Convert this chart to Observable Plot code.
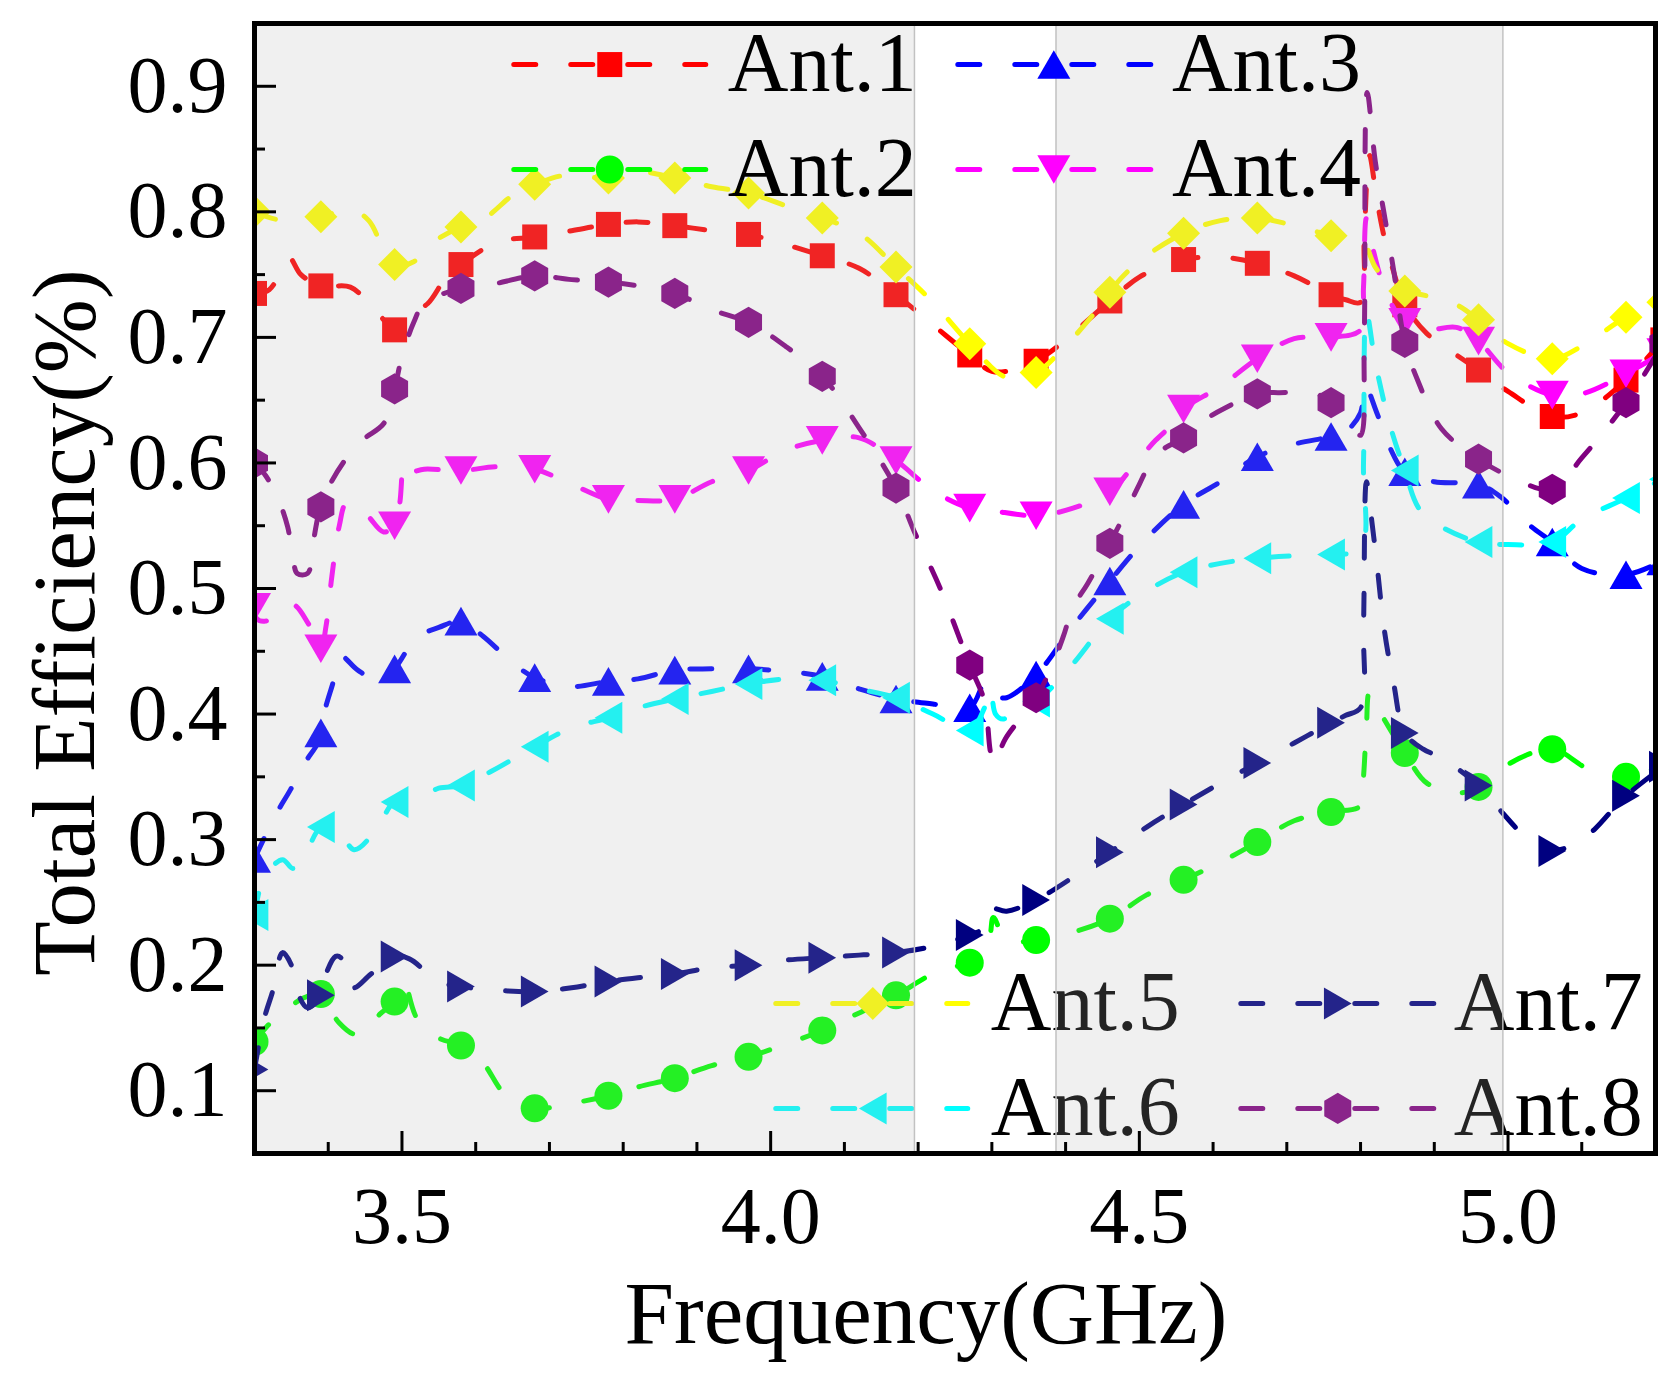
<!DOCTYPE html>
<html>
<head>
<meta charset="utf-8">
<script src="https://cdn.jsdelivr.net/npm/d3@7"></script>
<script src="https://cdn.jsdelivr.net/npm/@observablehq/plot@0.6"></script>
<style>
  html, body { margin: 0; padding: 0; background: #ffffff; }
  #chart { width: 1679px; height: 1380px; }
</style>
</head>
<body>
<div id="chart"></div>
<script>
// ---------------- data (frequency GHz, total efficiency) ----------------
const ant1 = [[3.30,0.735],[3.32,0.738],[3.34,0.757],[3.348,0.763],[3.363,0.75],[3.39,0.741],[3.43,0.74],[3.46,0.724],[3.48,0.711],[3.49,0.706],[3.51,0.718],[3.535,0.727],[3.56,0.748],[3.58,0.758],[3.63,0.776],[3.68,0.780],[3.73,0.785],[3.78,0.790],[3.82,0.792],[3.87,0.789],[3.92,0.785],[3.97,0.782],[4.02,0.774],[4.07,0.765],[4.12,0.755],[4.17,0.734],[4.22,0.71],[4.27,0.686],[4.30,0.673],[4.335,0.675],[4.36,0.681],[4.396,0.696],[4.425,0.711],[4.46,0.729],[4.50,0.748],[4.54,0.758],[4.56,0.762],[4.61,0.764],[4.66,0.759],[4.71,0.749],[4.76,0.734],[4.78,0.73],[4.80,0.728],[4.805,0.78],[4.812,0.845],[4.822,0.81],[4.832,0.78],[4.845,0.752],[4.86,0.726],[4.89,0.703],[4.93,0.686],[4.96,0.674],[5.00,0.657],[5.06,0.637],[5.10,0.64],[5.16,0.666],[5.21,0.698]];
const ant2 = [[3.30,0.139],[3.315,0.15],[3.333,0.16],[3.367,0.174],[3.39,0.177],[3.40,0.167],[3.415,0.154],[3.435,0.145],[3.447,0.146],[3.47,0.161],[3.49,0.171],[3.497,0.178],[3.503,0.187],[3.52,0.158],[3.55,0.142],[3.58,0.136],[3.61,0.122],[3.64,0.097],[3.68,0.086],[3.73,0.09],[3.78,0.096],[3.82,0.103],[3.87,0.11],[3.92,0.12],[3.97,0.127],[4.02,0.137],[4.07,0.148],[4.12,0.162],[4.17,0.176],[4.22,0.193],[4.27,0.202],[4.29,0.206],[4.298,0.225],[4.302,0.238],[4.32,0.22],[4.36,0.22],[4.39,0.223],[4.46,0.237],[4.51,0.256],[4.56,0.268],[4.61,0.282],[4.66,0.298],[4.71,0.315],[4.76,0.322],[4.80,0.327],[4.804,0.35],[4.808,0.39],[4.812,0.417],[4.825,0.403],[4.86,0.369],[4.89,0.345],[4.93,0.337],[4.96,0.342],[5.00,0.36],[5.06,0.372],[5.11,0.356],[5.16,0.35],[5.21,0.356]];
const ant3 = [[3.30,0.285],[3.329,0.32],[3.349,0.34],[3.367,0.36],[3.386,0.377],[3.39,0.385],[3.395,0.402],[3.406,0.424],[3.417,0.446],[3.44,0.435],[3.47,0.426],[3.49,0.436],[3.52,0.461],[3.55,0.469],[3.58,0.474],[3.61,0.462],[3.65,0.441],[3.68,0.429],[3.73,0.422],[3.78,0.426],[3.82,0.428],[3.87,0.435],[3.92,0.436],[3.97,0.436],[4.02,0.434],[4.07,0.43],[4.12,0.42],[4.17,0.412],[4.22,0.408],[4.27,0.405],[4.29,0.425],[4.298,0.426],[4.31,0.414],[4.32,0.413],[4.36,0.431],[4.41,0.47],[4.46,0.506],[4.51,0.54],[4.56,0.567],[4.61,0.585],[4.66,0.605],[4.71,0.615],[4.76,0.621],[4.78,0.625],[4.80,0.64],[4.806,0.662],[4.822,0.64],[4.84,0.612],[4.86,0.593],[4.90,0.585],[4.96,0.583],[4.99,0.573],[5.03,0.55],[5.06,0.537],[5.10,0.516],[5.16,0.511],[5.21,0.522]];
const ant4 = [[3.30,0.485],[3.303,0.476],[3.315,0.474],[3.335,0.482],[3.353,0.487],[3.373,0.472],[3.39,0.452],[3.397,0.47],[3.405,0.51],[3.415,0.55],[3.425,0.568],[3.45,0.56],[3.475,0.545],[3.49,0.55],[3.497,0.568],[3.503,0.6],[3.51,0.593],[3.53,0.595],[3.58,0.594],[3.63,0.597],[3.68,0.595],[3.73,0.583],[3.78,0.571],[3.82,0.57],[3.87,0.571],[3.92,0.585],[3.97,0.594],[4.02,0.61],[4.07,0.618],[4.12,0.62],[4.17,0.602],[4.22,0.578],[4.27,0.564],[4.30,0.562],[4.36,0.558],[4.41,0.564],[4.46,0.577],[4.495,0.60],[4.522,0.618],[4.547,0.632],[4.56,0.643],[4.61,0.661],[4.66,0.683],[4.71,0.699],[4.76,0.70],[4.80,0.706],[4.804,0.74],[4.808,0.795],[4.817,0.77],[4.835,0.735],[4.86,0.712],[4.89,0.706],[4.93,0.708],[4.96,0.697],[5.00,0.672],[5.06,0.654],[5.10,0.655],[5.16,0.671],[5.21,0.688]];
const ant5 = [[3.30,0.80],[3.33,0.794],[3.36,0.795],[3.39,0.796],[3.43,0.802],[3.455,0.793],[3.475,0.77],[3.49,0.758],[3.515,0.76],[3.54,0.775],[3.58,0.788],[3.61,0.794],[3.643,0.81],[3.66,0.818],[3.68,0.822],[3.72,0.829],[3.78,0.827],[3.82,0.832],[3.87,0.827],[3.92,0.82],[3.97,0.815],[4.02,0.805],[4.07,0.795],[4.12,0.783],[4.17,0.756],[4.22,0.728],[4.27,0.695],[4.32,0.668],[4.36,0.672],[4.39,0.687],[4.44,0.72],[4.46,0.736],[4.475,0.747],[4.505,0.763],[4.56,0.783],[4.61,0.793],[4.66,0.795],[4.71,0.789],[4.76,0.781],[4.78,0.778],[4.80,0.777],[4.808,0.772],[4.82,0.756],[4.84,0.742],[4.86,0.737],[4.89,0.733],[4.93,0.726],[4.96,0.714],[5.00,0.695],[5.06,0.683],[5.10,0.693],[5.16,0.716],[5.21,0.728]];
const ant6 = [[3.30,0.24],[3.313,0.27],[3.338,0.284],[3.352,0.277],[3.365,0.284],[3.39,0.31],[3.41,0.312],[3.435,0.292],[3.465,0.308],[3.49,0.33],[3.52,0.332],[3.55,0.341],[3.58,0.343],[3.62,0.354],[3.68,0.374],[3.73,0.389],[3.78,0.397],[3.82,0.405],[3.87,0.412],[3.92,0.418],[3.97,0.424],[4.02,0.428],[4.07,0.427],[4.12,0.42],[4.17,0.413],[4.22,0.40],[4.27,0.387],[4.29,0.405],[4.298,0.42],[4.305,0.40],[4.315,0.396],[4.33,0.402],[4.36,0.41],[4.41,0.44],[4.46,0.476],[4.51,0.498],[4.56,0.513],[4.61,0.52],[4.66,0.524],[4.71,0.526],[4.76,0.527],[4.80,0.532],[4.804,0.60],[4.808,0.72],[4.82,0.68],[4.84,0.63],[4.86,0.594],[4.88,0.563],[4.91,0.549],[4.96,0.537],[5.00,0.535],[5.06,0.537],[5.10,0.555],[5.16,0.572],[5.21,0.587]];
const ant7 = [[3.30,0.117],[3.313,0.157],[3.325,0.18],[3.338,0.21],[3.35,0.20],[3.358,0.179],[3.372,0.166],[3.39,0.176],[3.397,0.193],[3.41,0.207],[3.417,0.206],[3.433,0.182],[3.458,0.193],[3.49,0.207],[3.51,0.205],[3.55,0.187],[3.58,0.183],[3.63,0.18],[3.68,0.179],[3.73,0.182],[3.78,0.187],[3.82,0.19],[3.87,0.193],[3.92,0.198],[3.97,0.2],[4.02,0.204],[4.07,0.206],[4.12,0.208],[4.17,0.21],[4.22,0.215],[4.27,0.224],[4.296,0.232],[4.299,0.245],[4.32,0.243],[4.36,0.252],[4.41,0.27],[4.46,0.29],[4.51,0.31],[4.56,0.328],[4.61,0.345],[4.66,0.361],[4.71,0.377],[4.76,0.393],[4.78,0.399],[4.80,0.405],[4.804,0.47],[4.808,0.585],[4.815,0.555],[4.823,0.515],[4.832,0.468],[4.845,0.424],[4.86,0.385],[4.885,0.372],[4.907,0.366],[4.935,0.355],[4.96,0.343],[4.993,0.321],[5.02,0.304],[5.048,0.292],[5.06,0.291],[5.09,0.296],[5.117,0.308],[5.145,0.326],[5.16,0.335],[5.21,0.358]];
const ant8 = [[3.30,0.60],[3.315,0.59],[3.333,0.57],[3.345,0.549],[3.352,0.526],[3.358,0.512],[3.372,0.512],[3.38,0.538],[3.386,0.557],[3.39,0.565],[3.40,0.58],[3.42,0.60],[3.446,0.618],[3.476,0.632],[3.49,0.659],[3.50,0.685],[3.516,0.712],[3.53,0.727],[3.58,0.739],[3.62,0.742],[3.68,0.749],[3.73,0.746],[3.78,0.744],[3.82,0.741],[3.87,0.735],[3.92,0.722],[3.97,0.712],[4.02,0.693],[4.07,0.669],[4.12,0.628],[4.17,0.58],[4.195,0.545],[4.23,0.5],[4.27,0.439],[4.29,0.41],[4.298,0.37],[4.303,0.36],[4.318,0.38],[4.36,0.413],[4.384,0.442],[4.397,0.462],[4.41,0.485],[4.43,0.504],[4.46,0.536],[4.486,0.566],[4.50,0.583],[4.517,0.602],[4.535,0.612],[4.56,0.62],[4.588,0.634],[4.617,0.644],[4.66,0.655],[4.69,0.656],[4.74,0.655],[4.76,0.648],[4.785,0.635],[4.80,0.622],[4.805,0.70],[4.809,0.895],[4.82,0.84],[4.833,0.795],[4.845,0.753],[4.86,0.696],[4.878,0.665],[4.91,0.627],[4.96,0.603],[5.00,0.59],[5.06,0.579],[5.10,0.604],[5.16,0.648],[5.21,0.695]];

const seriesNames  = ["Ant.1", "Ant.2", "Ant.3", "Ant.4", "Ant.5", "Ant.6", "Ant.7", "Ant.8"];
const seriesData   = [ant1, ant2, ant3, ant4, ant5, ant6, ant7, ant8];
const seriesColors = ["#ff0000", "#00ff00", "#0000ff", "#ff00ff", "#ffff00", "#00ffff", "#000080", "#800080"];
const seriesShapes = ["square", "circle", "triangleUp", "triangleDown", "diamond", "triangleLeft", "triangleRight", "hexagon"];
const seriesSizes  = [12.5, 14, 16.5, 16.5, 16.5, 16, 16, 13.5];

// frequencies at which symbols are drawn
const markerFreqs = [3.30, 3.39, 3.49, 3.58, 3.68, 3.78, 3.87, 3.97, 4.07, 4.17, 4.27, 4.36, 4.46, 4.56, 4.66, 4.76, 4.86, 4.96, 5.06, 5.16, 5.21];

// ticks
const xMajor = [3.5, 4.0, 4.5, 5.0];
const xMinor = [3.4, 3.6, 3.7, 3.8, 3.9, 4.1, 4.2, 4.3, 4.4, 4.6, 4.7, 4.8, 4.9, 5.1];
const yMajor = [0.1, 0.2, 0.3, 0.4, 0.5, 0.6, 0.7, 0.8, 0.9];
const yMinor = [0.15, 0.25, 0.35, 0.45, 0.55, 0.65, 0.75, 0.85];
const xDomain = [3.3, 5.2];
const yDomain = [0.05, 0.95];

// shaded frequency bands (GHz)
const bands = [[3.3, 4.195], [4.387, 4.993]];

// legend layout (data coordinates): [seriesIndex, lineStart, markerX, lineEnd, textX, rowY]
const legendTop = [
  [0, 3.6516, 3.7818, 3.9120, 3.9418, 0.9173],
  [2, 4.2538, 4.3840, 4.5156, 4.5442, 0.9173],
  [1, 3.6516, 3.7818, 3.9120, 3.9418, 0.8337],
  [3, 4.2538, 4.3840, 4.5156, 4.5442, 0.8337]
];
const legendBottom = [
  [4, 4.0069, 4.1385, 4.2673, 4.2985, 0.1695],
  [6, 4.6376, 4.7691, 4.8993, 4.9265, 0.1695],
  [5, 4.0069, 4.1385, 4.2673, 4.2985, 0.0859],
  [7, 4.6376, 4.7691, 4.8993, 4.9265, 0.0859]
];

// ---------------- symbols ----------------
const SQ3 = Math.sqrt(3);
function makeSymbol(kind) {
  return {
    draw(ctx, size) {
      const r = Math.sqrt(size / Math.PI);
      if (kind === "square") { ctx.rect(-r, -r, 2 * r, 2 * r); return; }
      if (kind === "circle") { ctx.moveTo(r, 0); ctx.arc(0, 0, r, 0, 2 * Math.PI); return; }
      let pts;
      const h = SQ3 * r;
      if (kind === "diamond") pts = [[0, -r], [r, 0], [0, r], [-r, 0]];
      else if (kind === "triangleUp") pts = [[0, -h / 2], [r, h / 2], [-r, h / 2]];
      else if (kind === "triangleDown") pts = [[0, h / 2], [r, -h / 2], [-r, -h / 2]];
      else if (kind === "triangleRight") pts = [[h / 2, 0], [-h / 2, -r], [-h / 2, r]];
      else if (kind === "triangleLeft") pts = [[-h / 2, 0], [h / 2, -r], [h / 2, r]];
      else if (kind === "hexagon") {
        const ry = r * 1.1547;
        pts = [[0, -ry], [r, -ry / 2], [r, ry / 2], [0, ry], [-r, ry / 2], [-r, -ry / 2]];
      }
      ctx.moveTo(pts[0][0], pts[0][1]);
      for (let i = 1; i < pts.length; i++) ctx.lineTo(pts[i][0], pts[i][1]);
      ctx.closePath();
    }
  };
}
const symbolObjs = {};
for (const k of new Set(seriesShapes)) symbolObjs[k] = makeSymbol(k);

// ---------------- layout ----------------
const W = 1679, H = 1380;
const M = {top: 23, right: 24, bottom: 227, left: 254};
const fPerPx = (xDomain[1] - xDomain[0]) / (W - M.left - M.right);
const vPerPx = (yDomain[1] - yDomain[0]) / (H - M.top - M.bottom);
const FONT = "'Liberation Serif', 'Times New Roman', Times, serif";
const DASH = "22,35";
const LW = 5;

const isMarker = d => markerFreqs.some(m => Math.abs(m - d[0]) < 1e-9);

const marks = [];

// data series
seriesData.forEach((data, i) => {
  marks.push(Plot.line(data, {
    x: d => d[0], y: d => d[1], stroke: seriesColors[i], strokeWidth: LW,
    strokeDasharray: DASH, strokeLinecap: "round", strokeLinejoin: "round",
    curve: "catmull-rom", clip: true
  }));
  marks.push(Plot.dot(data.filter(isMarker), {
    x: d => d[0], y: d => d[1], symbol: symbolObjs[seriesShapes[i]], r: seriesSizes[i],
    fill: seriesColors[i], stroke: "none", clip: true
  }));
});

function legendMarks(entries) {
  const out = [];
  for (const [si, x1, xm, x2, xt, y] of entries) {
    out.push(Plot.line([[x1, y], [x2, y]], {
      x: d => d[0], y: d => d[1], stroke: seriesColors[si], strokeWidth: LW,
      strokeDasharray: DASH, strokeLinecap: "round"
    }));
    out.push(Plot.dot([[xm, y]], {
      x: d => d[0], y: d => d[1], symbol: symbolObjs[seriesShapes[si]], r: seriesSizes[si],
      fill: seriesColors[si], stroke: "none"
    }));
    out.push(Plot.text([[xt, y, seriesNames[si]]], {
      x: d => d[0], y: d => d[1], text: d => d[2], textAnchor: "start", lineAnchor: "middle",
      fontSize: 84, fontFamily: FONT, fill: "black"
    }));
  }
  return out;
}

// bottom legend sits beneath the band shading
marks.push(...legendMarks(legendBottom));

// shaded bands
marks.push(Plot.rect(bands, {
  x1: d => d[0], x2: d => d[1], y1: yDomain[0], y2: yDomain[1],
  fill: "#b4b4b4", fillOpacity: 0.2
}));
marks.push(Plot.ruleX(bands.flat().filter(v => v > xDomain[0] && v < xDomain[1]), {
  x: d => d, stroke: "#c2c2c2", strokeWidth: 1.5
}));

// top legend above shading
marks.push(...legendMarks(legendTop));

// inward ticks
const majLen = 22, minLen = 11;
marks.push(Plot.ruleX(xMajor, {x: d => d, y1: yDomain[0], y2: yDomain[0] + majLen * vPerPx, stroke: "black", strokeWidth: 3}));
marks.push(Plot.ruleX(xMinor, {x: d => d, y1: yDomain[0], y2: yDomain[0] + minLen * vPerPx, stroke: "black", strokeWidth: 3}));
marks.push(Plot.ruleY(yMajor, {y: d => d, x1: xDomain[0], x2: xDomain[0] + majLen * fPerPx, stroke: "black", strokeWidth: 3}));
marks.push(Plot.ruleY(yMinor, {y: d => d, x1: xDomain[0], x2: xDomain[0] + minLen * fPerPx, stroke: "black", strokeWidth: 3}));

// frame
marks.push(Plot.frame({stroke: "black", strokeWidth: 5}));

// axes labels
marks.push(Plot.axisX(xMajor, {tickSize: 0, tickPadding: 33, tickFormat: d3.format(".1f"), fontSize: 80, fontFamily: FONT, label: null}));
marks.push(Plot.axisY(yMajor, {tickSize: 0, tickPadding: 27, tickFormat: d3.format(".1f"), fontSize: 80, fontFamily: FONT, label: null}));

// axis titles
marks.push(Plot.text(["Frequency(GHz)"], {
  text: d => d, frameAnchor: "bottom", textAnchor: "middle", lineAnchor: "middle",
  dx: -29, dy: 161, fontSize: 89, fontFamily: FONT, fill: "black"
}));
marks.push(Plot.text(["Total Efficiency(%)"], {
  text: d => d, frameAnchor: "left", textAnchor: "middle", lineAnchor: "middle", rotate: -90,
  dx: -189, dy: 34, fontSize: 89, fontFamily: FONT, fill: "black"
}));

const chart = Plot.plot({
  width: W, height: H,
  marginTop: M.top, marginRight: M.right, marginBottom: M.bottom, marginLeft: M.left,
  x: {domain: xDomain, label: null},
  y: {domain: yDomain, label: null},
  style: {fontFamily: FONT, background: "white", color: "black", overflow: "visible"},
  marks
});
document.getElementById("chart").appendChild(chart);
</script>
</body>
</html>
